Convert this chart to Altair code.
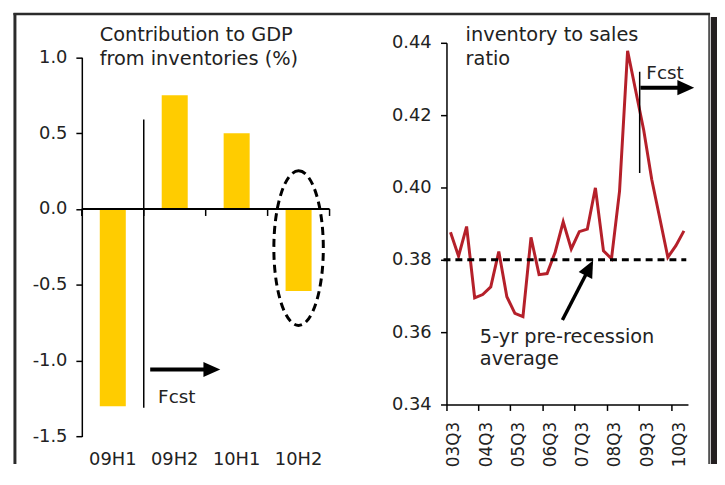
import altair as alt
import pandas as pd

# ---------------- data ----------------
halves = ["09H1", "09H2", "10H1", "10H2"]
contrib = [-1.30, 0.75, 0.50, -0.54]

quarters = ["03Q3", "03Q4", "04Q1", "04Q2", "04Q3", "04Q4", "05Q1", "05Q2", "05Q3", "05Q4",
            "06Q1", "06Q2", "06Q3", "06Q4", "07Q1", "07Q2", "07Q3", "07Q4", "08Q1", "08Q2",
            "08Q3", "08Q4", "09Q1", "09Q2", "09Q3", "09Q4", "10Q1", "10Q2", "10Q3", "10Q4"]
ratio = [0.3876, 0.3810, 0.3892, 0.3695, 0.3704, 0.3725, 0.3823, 0.3698, 0.3652, 0.3643,
         0.3862, 0.3759, 0.3762, 0.3821, 0.3905, 0.3830, 0.3878, 0.3885, 0.3999, 0.3825,
         0.3803, 0.3990, 0.4378, 0.4268, 0.4159, 0.4022, 0.3915, 0.3807, 0.3839, 0.3880]
q3_labels = [q for q in quarters if q.endswith("Q3")]
avg_level = 0.38
left_ticks = [-1.5, -1.0, -0.5, 0.0, 0.5, 1.0]
right_ticks = [0.34, 0.36, 0.38, 0.40, 0.42, 0.44]

# ---------------- style ----------------
FONT = "DejaVu Sans"
TXT = "#222222"
FRAME = "#2b2b2b"
ARROW = "M -1 -0.9 L 1 0 L -1 0.9 Z"
ELLIPSE = ("M 0 -1 C 0.1767 -1 0.32 -0.5523 0.32 0 C 0.32 0.5523 0.1767 1 0 1 "
           "C -0.1767 1 -0.32 0.5523 -0.32 0 C -0.32 -0.5523 -0.1767 -1 0 -1 Z")

axis_style = dict(domainColor="black", domainWidth=1.5, tickColor="black", tickWidth=1.5,
                  tickSize=6, labelFont=FONT, labelColor=TXT, grid=False, title=None)

one = pd.DataFrame({"k": [0]})
left_df = pd.DataFrame({"half": halves, "value": contrib})
right_df = pd.DataFrame({"q": quarters, "ratio": ratio})

# ---------------- left panel ----------------
LW, LH = 250, 397.3
HALF_GAP = 18.125  # half of the inner padding between bars
xl_scale = alt.Scale(paddingInner=0.58, paddingOuter=0.29)
yl_scale = alt.Scale(domain=[-1.5, 1.0], range=[LH, 14.7], nice=False, zero=False)


def xl(**kw):
    return alt.X("half:N", sort=halves, scale=xl_scale, **kw)


bars = alt.Chart(left_df).mark_bar(color="#FFCC00").encode(
    x=xl(axis=alt.Axis(orient="bottom", domain=False, ticks=False, labelPadding=14,
                       labelAngle=0, labelFont=FONT, labelFontSize=18, labelColor=TXT,
                       grid=False, title=None)),
    y=alt.Y("value:Q", scale=yl_scale,
            axis=alt.Axis(orient="left", values=left_ticks, labelPadding=9, labelFontSize=18,
                          labelExpr="datum.value < 0 ? '-' + format(-datum.value, '.1f') : format(datum.value, '.1f')",
                          **axis_style)),
)

zero_line = alt.Chart(one).mark_rule(color="black", strokeWidth=2).encode(
    y=alt.YDatum(0, scale=yl_scale), x=alt.value(0), x2=alt.value(LW))

tick_df = pd.DataFrame({"half": halves})
ticks0 = alt.Chart(tick_df).mark_rule(color="black", strokeWidth=1.5, xOffset=-HALF_GAP, y2Offset=7).encode(
    x=xl(bandPosition=0), y=alt.YDatum(0, scale=yl_scale), y2=alt.Y2Datum(0))
ticks1 = alt.Chart(pd.DataFrame({"half": halves[-1:]})).mark_rule(
    color="black", strokeWidth=1.5, xOffset=HALF_GAP, y2Offset=7).encode(
    x=xl(bandPosition=1), y=alt.YDatum(0, scale=yl_scale), y2=alt.Y2Datum(0))

fcst_l = alt.Chart(pd.DataFrame({"half": ["09H2"]})).mark_rule(
    color="black", strokeWidth=1.5, xOffset=-HALF_GAP).encode(
    x=xl(bandPosition=0), y=alt.YDatum(0.59, scale=yl_scale), y2=alt.Y2Datum(-1.31))

arrow_l_shaft = alt.Chart(one).mark_rule(color="black", strokeWidth=4).encode(
    x=alt.value(69), x2=alt.value(124), y=alt.value(329.7))
arrow_l_head = alt.Chart(one).mark_point(shape=ARROW, size=289, filled=True, color="black", opacity=1).encode(
    x=alt.value(131.2), y=alt.value(329.7))
fcst_l_text = alt.Chart(one).mark_text(text="Fcst", align="left", baseline="alphabetic", font=FONT,
                                        fontSize=18.5, color=TXT).encode(x=alt.value(77), y=alt.value(363))

ellipse = alt.Chart(pd.DataFrame({"half": ["10H2"]})).mark_point(
    shape=ELLIPSE, size=24336, filled=False, color="black", strokeWidth=3, strokeDash=[8, 5], opacity=1).encode(
    x=xl(), y=alt.YDatum(-0.258, scale=yl_scale))

title_l = alt.Chart(one).mark_text(text=["Contribution to GDP", "from inventories (%)"], lineHeight=24,
                                    align="left", baseline="alphabetic", font=FONT, fontSize=19.5,
                                    color=TXT).encode(x=alt.value(18), y=alt.value(-2))

f_left = alt.Chart(one).mark_rule(color=FRAME, strokeWidth=3).encode(
    x=alt.value(-67.5), y=alt.value(-30), y2=alt.value(425))
f_top = alt.Chart(one).mark_rule(color=FRAME, strokeWidth=2.5).encode(
    x=alt.value(-69), x2=alt.value(634), y=alt.value(-29))

left = alt.layer(f_left, f_top, bars, zero_line, ticks0, ticks1, fcst_l, arrow_l_shaft, arrow_l_head,
                 fcst_l_text, ellipse, title_l).properties(width=LW, height=LH)

# ---------------- right panel ----------------
RW, RH = 243.7, 365
xr_scale = alt.Scale(type="band", paddingInner=0, paddingOuter=0)
yr_scale = alt.Scale(domain=[0.34, 0.44], nice=False, zero=False)


def xr(**kw):
    return alt.X("q:O", sort=quarters, scale=xr_scale, **kw)


line = alt.Chart(right_df).mark_line(color="#B5202A", strokeWidth=3).encode(
    x=xr(bandPosition=0.5,
         axis=alt.Axis(orient="bottom", values=q3_labels, bandPosition=0, labelOffset=4,
                       labelAngle=270, labelPadding=11, labelFontSize=17, **axis_style)),
    y=alt.Y("ratio:Q", scale=yr_scale,
            axis=alt.Axis(orient="left", values=right_ticks, format=".2f",
                          labelPadding=9.5, labelFontSize=18, **axis_style)),
)

avg_rule = alt.Chart(one).mark_rule(color="black", strokeWidth=3, strokeDash=[7, 5]).encode(
    y=alt.YDatum(avg_level, scale=yr_scale), x=alt.value(-3), x2=alt.value(242))

fcst_r = alt.Chart(pd.DataFrame({"q": ["09Q3"]})).mark_rule(color="black", strokeWidth=1.5).encode(
    x=xr(bandPosition=0), y=alt.YDatum(0.432, scale=yr_scale), y2=alt.Y2Datum(0.404))

arrow_r_shaft = alt.Chart(one).mark_rule(color="black", strokeWidth=4).encode(
    x=alt.value(195.7), x2=alt.value(242), y=alt.value(45.3))
arrow_r_head = alt.Chart(one).mark_point(shape=ARROW, size=289, filled=True, color="black", opacity=1).encode(
    x=alt.value(241.5), y=alt.value(45.3))
fcst_r_text = alt.Chart(one).mark_text(text="Fcst", align="left", baseline="alphabetic", font=FONT,
                                        fontSize=18.5, color=TXT).encode(x=alt.value(201.7), y=alt.value(37))

title_r = alt.Chart(one).mark_text(text=["inventory to sales", "ratio"], lineHeight=24,
                                    align="left", baseline="alphabetic", font=FONT, fontSize=19.5,
                                    color=TXT).encode(x=alt.value(19.3), y=alt.value(-2))

note = alt.Chart(one).mark_text(text=["5-yr pre-recession", "average"], lineHeight=22,
                                 align="left", baseline="alphabetic", font=FONT, fontSize=19.5,
                                 color=TXT).encode(x=alt.value(33.7), y=alt.value(303))

diag_shaft = alt.Chart(one).mark_rule(color="black", strokeWidth=3.5).encode(
    x=alt.value(117), y=alt.value(279.7), x2=alt.value(144.1), y2=alt.value(227.2))
diag_head = alt.Chart(one).mark_point(shape=ARROW, size=289, filled=True, color="black", opacity=1,
                                      angle=297).encode(x=alt.value(144.1), y=alt.value(227.2))

f_right = alt.Chart(one).mark_rule(color=FRAME, strokeWidth=1.5).encode(
    x=alt.value(265), y=alt.value(-30), y2=alt.value(425))
f_shadow = alt.Chart(one).mark_rect(color="#231f20").encode(
    x=alt.value(266.7), x2=alt.value(273), y=alt.value(-26), y2=alt.value(425))

right = alt.layer(f_right, f_shadow, line, avg_rule, fcst_r, arrow_r_shaft, arrow_r_head, fcst_r_text,
                  title_r, note, diag_shaft, diag_head).properties(width=RW, height=RH)

chart = alt.hconcat(left, right, spacing=118, bounds="flush").properties(
    padding={"left": 3.5, "top": 1, "right": 0, "bottom": 0}, background="white"
).configure_view(stroke=None, strokeWidth=0)

chart.save("out.html", embed_options={"renderer": "svg", "actions": False})
